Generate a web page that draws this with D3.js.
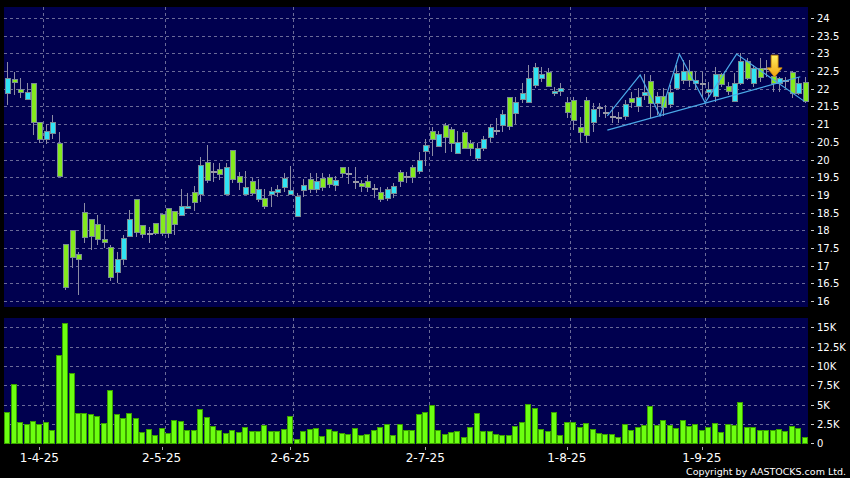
<!DOCTYPE html>
<html><head><meta charset="utf-8">
<script src="https://cdn.jsdelivr.net/npm/d3@7/dist/d3.min.js"></script>
<style>html,body{margin:0;padding:0;background:#000;}svg{display:block}</style>
</head><body><svg id="c" width="850" height="478"></svg>
<script>
// ---- data ----
const open = [21.87,22.28,22.00,21.70,22.15,21.05,20.59,20.76,20.46,17.60,
18.00,17.32,18.53,18.31,18.18,17.74,17.52,16.83,17.18,17.85,
18.87,18.14,17.91,18.20,18.46,18.62,18.55,18.43,18.62,19.09,
19.02,19.92,19.68,19.72,19.02,20.26,19.52,19.02,19.39,18.87,
18.90,19.02,19.09,19.21,19.02,18.41,19.14,19.44,19.18,19.47,
19.50,19.29,19.78,19.61,19.40,19.34,19.39,19.20,19.09,18.90,
19.04,19.64,19.53,19.78,19.68,20.25,20.81,20.39,20.98,20.85,
20.19,20.77,20.46,20.05,20.33,20.65,20.83,20.98,21.76,21.31,
21.70,21.62,22.11,22.30,22.48,21.87,21.95,21.62,21.68,20.91,
21.68,21.07,21.49,21.35,21.23,21.19,21.23,21.75,21.51,21.81,
22.23,21.61,21.80,21.56,22.01,22.25,22.51,22.15,22.15,21.90,
21.79,22.41,22.09,21.66,22.15,22.79,22.15,22.58,22.58,22.36,
22.17,22.25,22.48,21.89,22.20];
const high = [22.75,22.48,22.30,22.15,22.15,21.05,21.00,21.26,20.77,17.62,
18.00,17.39,18.76,18.31,18.43,18.15,17.58,17.39,17.87,18.57,
18.87,18.14,18.08,18.20,18.46,18.62,18.55,19.16,19.06,19.25,
20.08,20.41,19.89,19.89,19.89,20.26,19.66,19.67,19.47,19.45,
19.18,19.23,19.28,19.63,19.82,19.04,19.45,19.61,19.61,19.63,
19.60,19.53,19.78,19.80,19.78,19.42,19.56,19.31,19.23,19.23,
19.33,19.70,19.66,19.84,20.22,20.57,20.93,20.81,21.02,20.93,
20.81,20.83,20.55,20.46,20.66,21.00,21.16,21.40,21.78,21.76,
22.15,22.67,22.72,22.62,22.58,22.04,22.17,21.78,21.78,21.21,
21.78,21.59,21.61,21.54,21.49,21.35,21.68,21.92,22.01,22.41,
22.39,21.92,22.01,22.11,22.67,22.81,22.81,22.48,22.48,22.20,
22.62,22.45,22.20,22.44,23.00,22.86,22.67,22.86,22.81,22.48,
22.34,22.34,22.50,22.34,22.34];
const low = [21.54,21.82,21.73,21.68,20.69,20.46,20.44,20.57,19.51,16.31,
16.92,16.17,17.65,17.44,17.58,17.49,16.57,16.50,17.02,17.80,
17.82,17.77,17.63,17.86,17.84,17.77,17.87,18.43,18.60,18.55,
18.81,19.33,19.37,19.42,19.00,19.33,19.14,19.00,19.00,18.80,
18.60,18.67,18.95,19.07,19.00,18.41,18.95,19.04,19.04,19.10,
19.20,19.12,19.50,19.31,19.16,19.09,19.09,18.90,18.81,18.84,
18.90,19.21,19.34,19.34,19.60,19.82,20.10,20.36,20.19,20.22,
20.17,20.30,20.11,19.96,20.25,20.50,20.69,20.79,20.83,21.00,
21.59,21.60,22.01,22.20,22.05,21.80,21.80,21.16,20.83,20.50,
20.46,20.79,21.21,21.16,21.02,21.02,21.12,21.45,21.35,21.68,
21.16,21.26,21.23,21.45,21.96,22.13,22.06,21.96,21.77,21.73,
21.63,22.06,21.82,21.63,22.10,22.25,22.06,22.20,22.34,21.92,
21.92,22.01,21.73,21.82,21.59];
const close = [22.30,22.18,21.90,21.90,21.05,20.57,20.80,21.05,19.54,16.40,
17.25,17.18,17.82,17.85,17.76,17.67,16.69,17.18,17.77,18.31,
17.96,17.89,17.91,17.93,17.93,17.93,18.17,18.69,18.69,18.81,
19.84,19.42,19.68,19.58,19.78,19.44,19.37,19.23,19.04,19.18,
18.69,19.11,19.17,19.47,19.13,18.97,19.28,19.18,19.39,19.21,
19.31,19.42,19.61,19.61,19.40,19.26,19.23,19.20,18.87,19.16,
19.25,19.40,19.53,19.51,19.99,20.41,20.57,20.71,20.65,20.46,
20.50,20.33,20.32,20.33,20.59,20.91,20.83,21.29,20.95,21.62,
21.87,22.30,22.61,22.41,22.08,21.95,22.01,21.35,21.12,20.77,
20.69,21.42,21.49,21.35,21.23,21.19,21.56,21.62,21.76,21.90,
21.61,21.80,21.49,21.90,22.44,22.51,22.25,22.25,22.15,21.98,
22.41,22.13,21.95,22.15,22.79,22.31,22.58,22.34,22.58,22.15,
22.30,22.25,21.87,22.17,21.66];
const volume = [4.08,7.68,2.72,2.50,2.89,2.54,2.76,1.75,11.36,15.57,
9.12,3.86,3.86,3.82,3.51,2.68,6.89,3.73,3.33,3.90,
3.33,1.45,1.89,1.01,2.02,1.32,3.03,2.89,1.75,1.71,
4.39,3.46,2.28,1.71,1.36,1.71,1.49,2.15,1.62,1.62,
2.37,1.54,1.54,1.89,3.55,0.61,1.54,1.89,1.97,0.88,
1.84,1.54,1.27,1.23,2.02,1.05,1.23,1.75,2.06,2.50,
1.10,2.50,1.75,1.75,3.77,3.99,4.96,1.75,1.18,1.40,
1.54,0.83,2.06,3.86,1.54,1.54,1.23,1.10,1.10,2.24,
2.76,5.04,4.56,1.89,1.54,4.08,1.10,2.72,2.72,2.11,
2.59,1.89,1.27,1.18,1.23,0.83,2.54,1.71,2.11,2.41,
4.78,2.37,2.98,2.32,2.02,3.07,2.28,2.50,1.67,2.11,
2.68,1.40,2.54,2.41,5.31,2.15,2.15,1.75,1.75,1.67,
1.89,1.54,2.28,1.97,0.83]; // thousands
const priceTicks = [16,16.5,17,17.5,18,18.5,19,19.5,20,20.5,21,21.5,22,22.5,23,23.5,24];
const volTicks = [0,2.5,5,7.5,10,12.5,15];
const volTickLabels = ["0","2.5K","5K","7.5K","10K","12.5K","15K"];
const dateLabels = ["1-4-25","2-5-25","2-6-25","2-7-25","1-8-25","1-9-25"];
const dateBars = [5,24,44,65,87,108];
const zigzag = [[93.3,21.23],[98.4,22.39],[101.5,21.23],[104.5,22.98],[108.5,21.61],[113.4,22.98],[123.9,21.65]];
const trendline = [[93.3,20.83],[123.3,22.34]];
const arrowBar = 119, arrowTop = 22.95, arrowTip = 22.33;

// ---- layout ----
const n = close.length;
const L = 4, R = 808;
const mainTop = 7, mainBot = 307, volTop = 318, volBot = 444;
const x = d3.scaleLinear().domain([-0.5, n - 0.5]).range([L, R]);
const step = x(1) - x(0);
const y = d3.scaleLinear().domain([16, 24]).range([301, 18]);
const yv = d3.scaleLinear().domain([0, 15]).range([443.3, 327.3]);

const svg = d3.select("#c");
svg.append("rect").attr("width",850).attr("height",478).attr("fill","#000");
const defs = svg.append("defs");
const g1 = defs.append("linearGradient").attr("id","arrowGrad").attr("x1",0).attr("y1",0).attr("x2",0).attr("y2",1);
g1.append("stop").attr("offset","0%").attr("stop-color","#fff060");
g1.append("stop").attr("offset","100%").attr("stop-color","#f0a010");

svg.append("rect").attr("x",L).attr("y",mainTop).attr("width",R-L).attr("height",mainBot-mainTop).attr("fill","#00004f");
svg.append("rect").attr("x",L).attr("y",volTop).attr("width",R-L).attr("height",volBot-volTop).attr("fill","#00004f");

const gridCol = "#6a6a98";
const grid = svg.append("g").attr("stroke",gridCol).attr("stroke-width",1).attr("stroke-dasharray","3,3").attr("shape-rendering","crispEdges");
priceTicks.forEach(t => {
  const yy = Math.round(y(t)) + 0.5;
  grid.append("line").attr("x1",L).attr("x2",R).attr("y1",yy).attr("y2",yy);
});
volTicks.slice(1).forEach(t => {
  const yy = Math.round(yv(t)) + 0.5;
  grid.append("line").attr("x1",L).attr("x2",R).attr("y1",yy).attr("y2",yy);
});
dateBars.forEach(b => {
  const xx = Math.round(x(b) + step/2) + 0.5;
  grid.append("line").attr("x1",xx).attr("x2",xx).attr("y1",mainTop).attr("y2",mainBot);
  grid.append("line").attr("x1",xx).attr("x2",xx).attr("y1",volTop).attr("y2",volBot);
});

// right axes
const ax = svg.append("g").attr("font-family","DejaVu Sans").attr("font-size",10).attr("fill","#fff");
priceTicks.forEach(t => {
  const yy = Math.round(y(t)) + 0.5;
  ax.append("line").attr("x1",811).attr("x2",814).attr("y1",yy).attr("y2",yy).attr("stroke","#ccc");
  ax.append("text").attr("x",817).attr("y",yy).attr("dy","0.35em").text(d3.format("~g")(t));
});
volTicks.forEach((t,k) => {
  const yy = Math.round(yv(t)) + 0.5;
  ax.append("line").attr("x1",811).attr("x2",814).attr("y1",yy).attr("y2",yy).attr("stroke","#ccc");
  ax.append("text").attr("x",817).attr("y",yy).attr("dy","0.35em").text(volTickLabels[k]);
});
// date axis
const dx = svg.append("g").attr("font-family","DejaVu Sans").attr("font-size",12).attr("fill","#fff").attr("text-anchor","middle");
dateBars.forEach((b,k) => {
  const xx = Math.round(x(b)) + 0.5;
  dx.append("line").attr("x1",xx).attr("x2",xx).attr("y1",447).attr("y2",450).attr("stroke","#aaa");
  dx.append("text").attr("x",x(b)).attr("y",462).text(dateLabels[k]);
});

// volume bars
svg.append("g").attr("shape-rendering","crispEdges").selectAll("rect").data(volume).join("rect")
  .attr("x",(d,i)=>Math.round(x(i)-3)+0.5).attr("width",5)
  .attr("y",d=>Math.round(yv(d))+0.5).attr("height",d=>Math.max(0,Math.round(yv(0))-Math.round(yv(d))))
  .attr("fill","#6cff10").attr("stroke","#3aa000").attr("stroke-width",1);

// candles
const cg = svg.append("g").attr("shape-rendering","crispEdges");
for (let i = 0; i < n; i++) {
  const cx = Math.round(x(i)) + 0.5;
  cg.append("line").attr("x1",cx).attr("x2",cx).attr("y1",y(high[i])).attr("y2",y(low[i])).attr("stroke","#8c8ca4");
  const o = open[i], c = close[i];
  if (Math.abs(o - c) < 0.005) {
    const yy = Math.round(y(o)) + 0.5;
    cg.append("rect").attr("x",cx-3).attr("y",yy-1).attr("width",6).attr("height",2).attr("fill","#9a9aa6");
  } else {
    const up = c > o;
    const t = Math.round(y(Math.max(o,c))), b = Math.round(y(Math.min(o,c)));
    cg.append("rect").attr("x",cx-2.5).attr("y",t+0.5).attr("width",5).attr("height",Math.max(1,b-t))
      .attr("fill", up ? "#30e4f4" : "#84ea1e").attr("stroke","#7a8c94").attr("stroke-width",1);
  }
}

// pattern lines
const line = d3.line().x(d=>x(d[0])).y(d=>y(d[1]));
svg.append("path").attr("d",line(zigzag)).attr("fill","none").attr("stroke","#4aa8e8").attr("stroke-width",1.2);
svg.append("path").attr("d",line(trendline)).attr("fill","none").attr("stroke","#4aa8e8").attr("stroke-width",1.2);

// arrow
const ax0 = x(arrowBar) + 2, yT = y(arrowTop), yB = y(arrowTip), yH = yT + (yB - yT) * 0.58;
svg.append("path").attr("d",`M${ax0-3.5},${yT}L${ax0+3.5},${yT}L${ax0+3.5},${yH}L${ax0+7.5},${yH}L${ax0},${yB}L${ax0-7.5},${yH}L${ax0-3.5},${yH}Z`)
  .attr("fill","url(#arrowGrad)").attr("stroke","#d08a00").attr("stroke-width",0.8);

// copyright
svg.append("text").attr("x",846).attr("y",475).attr("text-anchor","end").attr("font-family","DejaVu Sans").attr("font-size",9.5).attr("fill","#fff").text("Copyright by AASTOCKS.com Ltd.");
</script></body></html>
